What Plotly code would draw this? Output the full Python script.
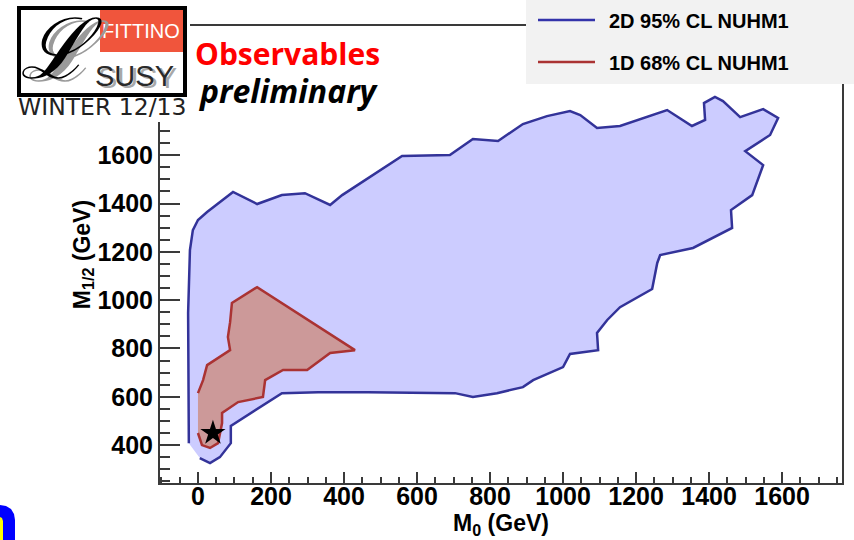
import plotly.graph_objects as go

# 2D 95% CL region of the NUHM1 fit, (M0, M1/2) in GeV
m0_2d = [-25, -27, -22, -14, 0, 25, 96, 162, 230, 293, 362, 395, 559, 690, 753, 822,
         890, 956, 1019, 1047, 1093, 1156, 1285, 1353, 1389, 1386, 1416, 1438, 1485,
         1548, 1589, 1567, 1499, 1548, 1518, 1460, 1463, 1356, 1266, 1258, 1244, 1192,
         1156, 1121, 1093, 1096, 1019, 1000, 918, 890, 819, 753, 704, 466, 329, 230,
         90, 90, 60, 33, 5]
m12_2d = [408, 947, 1207, 1290, 1332, 1365, 1448, 1398, 1435, 1443, 1394, 1435, 1597,
          1601, 1667, 1659, 1729, 1762, 1783, 1766, 1713, 1721, 1787, 1721, 1746, 1816,
          1841, 1824, 1758, 1791, 1754, 1684, 1617, 1559, 1435, 1373, 1299, 1216, 1187,
          1154, 1046, 1000, 971, 918, 864, 793, 777, 723, 669, 640, 615, 599, 615, 619,
          619, 615, 479, 408, 350, 325, 346]

# 1D 68% CL region
m0_1d = [0, 14, 25, 88, 82, 88, 93, 162, 430, 362, 299, 233, 184, 178, 110, 66, 66,
         55, 33, 11, 0]
m12_1d = [615, 669, 731, 793, 847, 909, 988, 1054, 793, 781, 711, 711, 669, 599, 578,
          533, 491, 408, 388, 400, 450]

# best fit point
best_m0 = [41]
best_m12 = [450]

legend_labels = ["2D 95% CL NUHM1", "1D 68% CL NUHM1"]
blue_line, blue_fill = "#333399", "#ccccff"
red_line, red_fill = "#aa3333", "#cc9999"

W, H = 854, 540
ML, MR, MT, MB = 160, 12, 26, 57
PW, PH = W - ML - MR, H - MT - MB


def fx(px):
    return (px - ML) / PW


def fy(py):
    return (H - MB - py) / PH


fig = go.Figure()
fig.add_trace(go.Scatter(x=m0_2d, y=m12_2d, fill="toself", fillcolor=blue_fill,
                         mode="lines", line=dict(color=blue_line, width=2.5),
                         name=legend_labels[0], hoverinfo="skip"))
fig.add_trace(go.Scatter(x=m0_1d, y=m12_1d, fill="toself", fillcolor=red_fill,
                         mode="lines", line=dict(color=red_line, width=2.5),
                         name=legend_labels[1], hoverinfo="skip"))
fig.add_trace(go.Scatter(x=best_m0, y=best_m12, mode="markers",
                         marker=dict(symbol="star", size=19, color="black"),
                         name="best fit"))

tickfont = dict(family="Liberation Sans", size=25, color="black", weight="bold")
titlefont = dict(family="Liberation Sans", size=23, color="black", weight="bold")
axcol = "#3a3a3a"

fig.update_xaxes(range=[-104, 1764], tick0=0, dtick=200, ticks="inside", ticklen=11,
                 tickwidth=1.5, tickcolor=axcol, automargin=False, ticklabelstandoff=-10,
                 minor=dict(dtick=50, ticks="inside", ticklen=6, tickwidth=1.5, tickcolor=axcol),
                 showline=True, linecolor=axcol, linewidth=2, mirror=True,
                 showgrid=False, zeroline=False, tickfont=tickfont,
                 title=dict(text="M<sub>0</sub> (GeV)", font=titlefont, standoff=0))
fig.update_yaxes(range=[243, 2135], tick0=0, dtick=200, ticks="inside", ticklen=20,
                 tickwidth=1.5, tickcolor=axcol, automargin=False,
                 minor=dict(dtick=50, ticks="inside", ticklen=10, tickwidth=1.5, tickcolor=axcol),
                 showline=True, linecolor=axcol, linewidth=2, mirror=True,
                 showgrid=False, zeroline=False, tickfont=tickfont,
                 title=dict(text="M<sub>1/2</sub> (GeV)", font=titlefont, standoff=0))

shapes = []
annotations = []


def rect(x0, y0, x1, y1, fill, line=None, lw=0):
    shapes.append(dict(type="rect", xref="paper", yref="paper", layer="above",
                       x0=fx(x0), x1=fx(x1), y0=fy(y0), y1=fy(y1), fillcolor=fill,
                       line=dict(color=line or "rgba(0,0,0,0)", width=lw)))


def hline(x0, x1, y, color, lw):
    shapes.append(dict(type="line", xref="paper", yref="paper", layer="above",
                       x0=fx(x0), x1=fx(x1), y0=fy(y), y1=fy(y),
                       line=dict(color=color, width=lw)))


def text(s, x, y, size, color, family="Liberation Sans", weight="normal",
         style="normal", xanchor="center"):
    annotations.append(dict(text=s, xref="paper", yref="paper", x=fx(x), y=fy(y),
                            xanchor=xanchor, yanchor="middle", showarrow=False,
                            font=dict(family=family, size=size, color=color,
                                      weight=weight, style=style)))


# logo block
rect(0, 0, 190, 122, "white")
rect(100, 10, 183, 52, "#f0553c")
rect(19, 8, 185, 95, "rgba(0,0,0,0)", "black", 4)
text("FITTINO", 141, 31, 20, "white")
text("ℒ", 68, 52, 84, "#9a9a9a", family="DejaVu Serif", style="italic")
text("ℒ", 62, 49, 84, "black", family="DejaVu Serif", style="italic")
text("SUSY", 137, 78, 29, "#a8a8a8")
text("SUSY", 134, 76, 29, "#2a2a2a")
text("WINTER 12/13", 102, 107, 23.5, "#222222", family="DejaVu Sans")

# header
text("Observables", 287, 53, 30, "#ff0000", family="Open Sans", weight="bold")
text("preliminary", 288, 91, 32, "black", family="Open Sans", weight="bold", style="italic")

# legend box
rect(526, 0, 854, 84, "#f2f2f2")
hline(538, 595, 20, "#3333aa", 2.5)
hline(538, 595, 62, "#aa3333", 2.5)
text(legend_labels[0], 607, 21, 20, "black", weight="bold", xanchor="left")
text(legend_labels[1], 607, 63, 20, "black", weight="bold", xanchor="left")


# letter fragment at the lower-left corner
def path_pts(pts):
    return "M " + " L ".join(f"{fx(a):.5f},{fy(b):.5f}" for a, b in pts) + " Z"


outer = [(0, 505), (6, 506), (11, 509), (14, 514), (15, 520), (15, 540), (0, 540)]
inner = [(0, 517), (2, 518), (3, 521), (3, 540), (0, 540)]
shapes.append(dict(type="path", xref="paper", yref="paper", layer="above",
                   path=path_pts(outer), fillcolor="#0000ff", line=dict(width=0)))
shapes.append(dict(type="path", xref="paper", yref="paper", layer="above",
                   path=path_pts(inner), fillcolor="#ffff00", line=dict(width=0)))

fig.update_layout(width=W, height=H, margin=dict(l=ML, r=MR, t=MT, b=MB),
                  plot_bgcolor="white", paper_bgcolor="white", showlegend=False,
                  shapes=shapes, annotations=annotations)

fig.write_html("out.html")
